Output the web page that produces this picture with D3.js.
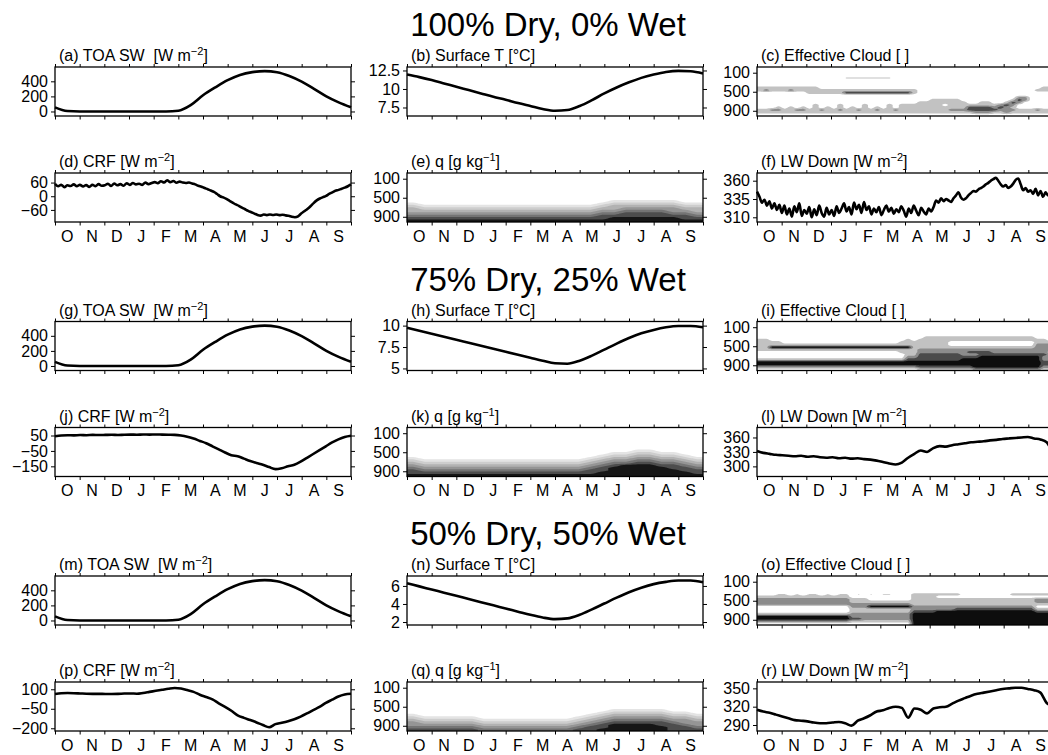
<!DOCTYPE html>
<html>
<head>
<meta charset="UTF-8">
<title>Dry / Wet seasonal panels</title>
<script src="https://cdn.jsdelivr.net/npm/d3@7"></script>
<style>
body { margin:0; background:#fff; }
text { font-family: "Liberation Sans", Arial, sans-serif; fill:#000; }
</style>
</head>
<body>
<svg id="chart" width="1048" height="755"></svg>
<script>
// ---- data ----
const months = ["O","N","D","J","F","M","A","M","J","J","A","S"];
const sections = ["100% Dry, 0% Wet", "75% Dry, 25% Wet", "50% Dry, 50% Wet"];

// TOA SW, twice a month (same in all three runs)
const toaSW = [55, 6, 0, 0, 0, 0, 0, 0, 0, 0, 10, 85, 215, 320, 415, 485, 522, 535, 520, 470, 395, 300, 200, 120, 55];

// surface temperature, twice a month
const sfcT100 = [11.95, 11.6, 11.2, 10.75, 10.3, 9.85, 9.4, 8.95, 8.55, 8.1, 7.7, 7.3, 7.05, 7.15, 7.7, 8.5, 9.4, 10.2, 10.9, 11.5, 11.95, 12.3, 12.45, 12.4, 12.1];
const sfcT75 = [9.75, 9.4, 9.05, 8.7, 8.35, 8.0, 7.65, 7.3, 6.95, 6.6, 6.25, 5.9, 5.6, 5.55, 5.9, 6.5, 7.2, 7.9, 8.55, 9.1, 9.5, 9.8, 9.95, 9.95, 9.8];
const sfcT50 = [6.3, 5.95, 5.6, 5.25, 4.9, 4.55, 4.2, 3.85, 3.5, 3.15, 2.8, 2.5, 2.32, 2.4, 2.8, 3.4, 4.05, 4.7, 5.3, 5.8, 6.2, 6.45, 6.6, 6.6, 6.4];

// cloud radiative forcing
const crf100 = [54, 44, 50, 40, 48, 45, 52, 44,  50, 43, 49, 41, 50, 44, 53, 46,
  48, 55, 45, 56, 48, 53, 46, 57,  50, 58, 52, 55, 50, 60, 53, 58,
  62, 57, 66, 60, 70, 62, 67, 59,  64, 60, 58, 60, 56, 52, 46, 42,
  36, 31, 25, 19, 10, 0, -5, -12,  -20, -28, -36, -42, -50, -57, -64, -70,
  -76, -82, -85, -80, -83, -80, -82, -80,  -83, -81, -84, -86, -90, -92, -88, -76,
  -66, -56, -44, -30, -18, -10, -4, 2,  10, 17, 24, 28, 33, 38, 44, 52];
const crf75 = [45, 50, 52, 51, 53, 52, 54, 53, 54, 55, 53, 55, 56, 55, 57, 56,
  57, 56, 55, 54, 50, 42, 30, 15, 0, -20, -40, -60, -78, -85, -100, -115,
  -128, -140, -155, -168, -162, -150, -140, -120, -95, -70, -45, -20, 5, 25, 40, 48];
const crf50 = [64, 70, 71, 70, 68, 66, 65, 65, 64, 64, 65, 67, 68, 66, 72, 80,
  88, 96, 104, 110, 106, 94, 80, 58, 40, 22, -8, -35, -65, -100, -120, -137,
  -155, -175, -192, -168, -158, -146, -130, -110, -86, -60, -36, -5, 20, 45, 60, 66];

// downward longwave at the surface
const lwd100 = [345, 338, 330, 334, 326, 332, 322, 329, 320, 327,
  316, 326, 314, 322, 311, 325, 317, 329, 312, 320,
  315, 324, 310, 321, 313, 326, 316, 311, 323, 314,
  320, 312, 325, 316, 322, 329, 318, 324, 314, 330,
  321, 327, 316, 331, 320, 325, 314, 322, 317, 324,
  313, 320, 326, 318, 323, 315, 321, 317, 325, 319,
  311, 322, 316, 326, 319, 313, 323, 318, 314, 322,
  318, 324, 333, 330, 336, 332, 335, 333, 331, 336,
  340, 344, 337, 334, 336, 340, 343, 346, 345, 348,
  350, 352, 355, 357, 360, 362, 364, 360, 355, 352,
  354, 350, 352, 356, 361, 363, 355, 347, 350, 345,
  347, 342, 349, 340, 346, 338, 344, 340, 343, 339];
const lwd75 = [332, 328, 326, 324, 323, 322, 321, 322, 320, 321, 319, 318,
  319, 317, 318, 316, 317, 315, 314, 312, 309, 306, 304, 308,
  318, 326, 333, 330, 338, 342, 341, 344, 346, 348, 350, 351,
  352, 354, 355, 357, 358, 359, 360, 361, 358, 356, 350, 326];
const lwd50 = [315, 312, 310, 307, 304, 301, 298, 297, 296, 294, 293, 293,
  294, 295, 293, 289, 297, 301, 306, 312, 314, 318, 320, 318,
  302, 317, 315, 309, 317, 319, 320, 325, 330, 334, 338, 341,
  343, 345, 347, 349, 350, 351, 351, 349, 347, 343, 326, 321];

// effective cloud: 20 pressure rows (top to bottom) x 48 time steps,
// class 0-4, "f" = faint trace
const cloud100 = [
  "00000000 00000000 00000000 00000000 00000000 00000000",
  "00000000 00000000 00000000 00000000 00000000 00000000",
  "00000000 00000000 00000000 00000000 00000000 00000000",
  "00000000 00000000 00000000 00000000 00000000 00000000",
  "00000000 000000ff ffffff00 00000000 00000000 00000000",
  "00000000 00000000 00000000 00000000 00000000 00000000",
  "00000000 00000000 00000000 00000000 00000000 00000000",
  "00000000 00000000 00000000 00000000 00000000 00000000",
  "11111111 11000000 00000000 00000000 00000000 00000011",
  "12111211 11111111 11111111 11000000 00000000 00000111",
  "00000000 11111133 33333333 31000000 00000000 00000000",
  "00000000 00000000 00000000 00000000 00000000 00000000",
  "00000000 00000000 00000000 00000000 00000000 00220000",
  "00000000 00000000 00000000 00001111 10000000 01320000",
  "00000000 00000000 00000000 00111111 11001100 13200000",
  "00000000 01000100 01000101 11111101 11111112 32000000",
  "00010101 01010101 01010101 11111111 11333323 21000000",
  "11221122 11211211 21121121 11111112 22333332 22111211",
  "11111111 11111111 11111111 11111111 11122211 21111111",
  "00000000 00000000 00000000 00000000 00000000 00000000"];
const cloud75 = [
  "00000000 00000000 00000000 00000000 00000000 00000000",
  "00000000 00000000 00000000 00000000 00000000 00000000",
  "00000000 00000000 00000000 00000000 00000000 00000000",
  "00000000 00000000 00000000 00000000 00000000 00000000",
  "00000000 00000000 00000000 00000000 00000000 00000000",
  "00000000 00000000 00000000 00000000 00000000 00000000",
  "00000000 00000000 00000000 00011111 11111111 11111000",
  "11000000 00000000 00000000 10111111 11111111 11111110",
  "11110000 00000000 00000001 11111110 00000000 00000111",
  "11111111 11111111 11111111 11111110 00000000 00000222",
  "11444444 44444444 44444444 41111111 11111111 11111222",
  "11111111 11111111 11111111 11222222 22222222 22222222",
  "00000000 00000000 00000001 11222222 22333322 22222221",
  "00000000 00000000 00000000 11333333 32223333 33333332",
  "00000000 00000000 00000000 22333333 33334444 44444422",
  "11111111 11111111 11111111 33333333 34444444 44444422",
  "44444444 44444444 44444444 44444444 44444444 44444433",
  "44444444 44444444 44444444 44444444 44444444 44444433",
  "22222222 22222222 22222222 22333333 33344444 44444422",
  "00000000 00000000 00000000 00111111 11122222 22222211"];
const cloud50 = [
  "00000000 00000000 00000000 00000000 00000000 00000000",
  "00000000 00000000 00000000 00000000 00000000 00000000",
  "00000000 00000000 00000000 00000000 00000000 00000000",
  "00000000 00000000 00000000 00000000 00000000 00000000",
  "00000000 00000000 00000000 00000000 00000000 00000000",
  "00000000 00000000 00000000 00000000 00000000 00000000",
  "00000000 00000000 00000000 00000000 00000000 00000000",
  "000ff0f0 ff0f0ff0 f0f0ff00 01111111 10000000 01111111",
  "11111111 11111110 00000000 01111000 00000000 00000000",
  "22222222 22222221 11000000 01111111 11111111 11111222",
  "22222222 22222221 11111111 11111111 11111111 11111222",
  "22222222 22222222 22222222 21111111 11111111 11111111",
  "00000000 00000002 22444444 42222222 22222222 22222000",
  "00000000 00000001 11111111 12222222 33333333 33333111",
  "00000000 00000001 11111111 13333444 44444444 44444333",
  "11111111 11111112 22222222 24444444 44444444 44444444",
  "44444444 44444442 22222222 24444444 44444444 44444444",
  "44444444 44444443 32222222 24444444 44444444 44444444",
  "22222222 22222221 11111111 14444444 44444444 44444444",
  "00000000 00000000 00000000 04444444 44444444 44444444"];

// specific humidity: 20 pressure rows x 25 half-month steps, shade class 0-7
const q100 = [
  "00000 00000 00000 00000 00000", "00000 00000 00000 00000 00000",
  "00000 00000 00000 00000 00000", "00000 00000 00000 00000 00000",
  "00000 00000 00000 00000 00000", "00000 00000 00000 00000 00000",
  "00000 00000 00000 00000 00000", "00000 00000 00000 00000 00000",
  "00000 00000 00000 00000 00000", "00000 00000 00000 00000 00000",
  "00000 00000 00000 00000 00000",
  "00000 00000 00000 00111 11100",
  "10000 00000 00000 01222 22211",
  "21111 11111 11111 12333 33322",
  "32222 22222 22222 23344 44433",
  "33333 33333 33333 34455 55443",
  "44444 44444 44444 45566 66554",
  "55555 55555 55555 56666 66665",
  "66666 66666 66666 66777 77766",
  "77777 77777 77777 77777 77777"];
const q75 = [
  "00000 00000 00000 00000 00000", "00000 00000 00000 00000 00000",
  "00000 00000 00000 00000 00000", "00000 00000 00000 00000 00000",
  "00000 00000 00000 00000 00000", "00000 00000 00000 00000 00000",
  "00000 00000 00000 00000 00000", "00000 00000 00000 00000 00000",
  "00000 00000 00000 00000 00000",
  "00000 00000 00000 00001 10000",
  "00000 00000 00000 00112 21100",
  "00000 00000 00000 01223 32210",
  "10000 00000 00000 12334 43321",
  "21111 11111 11111 23445 54432",
  "32222 22222 22222 34556 65543",
  "43333 33333 33333 45677 76654",
  "54444 44444 44444 56777 77665",
  "65555 55555 55555 66777 77766",
  "66666 66666 66666 67777 77776",
  "77777 77777 77777 77777 77777"];
const q50 = [
  "00000 00000 00000 00000 00000", "00000 00000 00000 00000 00000",
  "00000 00000 00000 00000 00000", "00000 00000 00000 00000 00000",
  "00000 00000 00000 00000 00000", "00000 00000 00000 00000 00000",
  "00000 00000 00000 00000 00000", "00000 00000 00000 00000 00000",
  "00000 00000 00000 00000 00000", "00000 00000 00000 00000 00000",
  "00000 00000 00000 00000 00000",
  "00000 00000 00000 00111 11000",
  "00000 00000 00000 01222 22110",
  "10000 00000 00000 12333 33221",
  "21111 10000 00001 23444 44332",
  "32222 21111 11112 34555 55443",
  "43333 32222 22223 45666 66544",
  "44444 43333 33334 56777 76654",
  "55555 54444 44445 66777 77665",
  "66666 65555 55556 67777 77666"];

// tick values
const swTicks = [0, 200, 400];
const tTicks = [[7.5, 10, 12.5], [5, 7.5, 10], [2, 4, 6]];
const crfTicks = [[-60, 0, 60], [-150, -50, 50], [-200, -50, 100]];
const lwTicks = [[310, 335, 360], [300, 330, 360], [290, 320, 350]];
const pTicks = [100, 500, 900];

// ---- layout ----
const W = 296, H = 49;
const colX = [55, 407, 757];
const secTop = [67, 321.5, 576];
const rowOff = [0, 106];
const cloudThr = [0.5, 1.5, 2.5, 3.5];
const cloudCol = ["#c2c2c2", "#8c8c8c", "#4b4b4b", "#0d0d0d"];
const qThr = [0.5, 1.5, 2.5, 3.5, 4.5, 5.5, 6.5];
const qCol = ["#e4e4e4", "#cdcdcd", "#b2b2b2", "#959595", "#747474", "#4d4d4d", "#161616"];
const fmt = d3.format("");

const svg = d3.select("#chart");

sections.forEach((s, i) => {
  svg.append("text").attr("x", 548).attr("y", 36 + i * 254.5)
    .attr("text-anchor", "middle").attr("font-size", 33).text(s);
});

const letters = "abcdefghijklmnopqr";
const sfcT = [sfcT100, sfcT75, sfcT50];
const crf = [crf100, crf75, crf50];
const lwd = [lwd100, lwd75, lwd50];
const cloud = [cloud100, cloud75, cloud50];
const qq = [q100, q75, q50];
const tDom = [[6.35, 12.97], [4.76, 10.48], [1.67, 7.1]];
const crfDom = [[-113, 102], [-216, 102], [-221, 156]];
const lwDom = [[303.6, 370.5], [279, 380.7], [280.2, 360.4]];

const specs = [];
for (let s = 0; s < 3; s++) {
  const L = i => "(" + letters[s * 6 + i] + ")";
  specs.push({sec:s,row:0,col:0,kind:"line",data:toaSW,domain:[-60,590],ticks:swTicks,title:[L(0)+" TOA SW  [W m","−2","]"]});
  specs.push({sec:s,row:0,col:1,kind:"line",data:sfcT[s],domain:tDom[s],ticks:tTicks[s],title:[L(1)+" Surface T [°C]"]});
  specs.push({sec:s,row:0,col:2,kind:"heat",data:cloud[s],thr:cloudThr,colors:cloudCol,title:[L(2)+" Effective Cloud [ ]"]});
  specs.push({sec:s,row:1,col:0,kind:"line",data:crf[s],domain:crfDom[s],ticks:crfTicks[s],title:[L(3)+" CRF [W m","−2","]"]});
  specs.push({sec:s,row:1,col:1,kind:"heat",data:qq[s],thr:qThr,colors:qCol,title:[L(4)+" q [g kg","−1","]"]});
  specs.push({sec:s,row:1,col:2,kind:"line",data:lwd[s],domain:lwDom[s],ticks:lwTicks[s],title:[L(5)+" LW Down [W m","−2","]"]});
}

// finer sampling of a class grid so the filled contours come out rounded
function refine(grid, k) {
  const ny = grid.length, nx = grid[0].length, out = [];
  for (let j = 0; j < ny * k; j++) {
    const fy = Math.min(Math.max((j + 0.5) / k - 0.5, 0), ny - 1);
    const y0 = Math.floor(fy), y1 = Math.min(y0 + 1, ny - 1), ty = fy - y0;
    for (let i = 0; i < nx * k; i++) {
      const fx = Math.min(Math.max((i + 0.5) / k - 0.5, 0), nx - 1);
      const x0 = Math.floor(fx), x1 = Math.min(x0 + 1, nx - 1), tx = fx - x0;
      out.push((grid[y0][x0] * (1 - tx) + grid[y0][x1] * tx) * (1 - ty) +
               (grid[y1][x0] * (1 - tx) + grid[y1][x1] * tx) * ty);
    }
  }
  return {vals: out, nx: nx * k, ny: ny * k};
}

function drawPanel(p) {
  const g = svg.append("g")
    .attr("transform", `translate(${colX[p.col]},${secTop[p.sec] + rowOff[p.row]})`);
  const x = d3.scaleLinear().domain([0, 12]).range([0, W]);
  let y;
  if (p.kind === "line") {
    y = d3.scaleLinear().domain(p.domain).range([H, 0]);
    const n = p.data.length;
    const line = d3.line()
      .x((d, i) => x(i * 12 / (n - 1)))
      .y(d => y(d))
      .curve(d3.curveMonotoneX);
    g.append("path").datum(p.data).attr("d", line)
      .attr("fill", "none").attr("stroke", "#000")
      .attr("stroke-width", 2.6).attr("stroke-linejoin", "round");
  } else {
    y = d3.scaleLinear().domain([1010, -20]).range([H, 0]);
    const grid = p.data.map(r => r.replace(/ /g, "").split("").map(c => c === "f" ? 0.6 : +c));
    const f = refine(grid, 5);
    const cs = d3.contours().size([f.nx, f.ny]).thresholds(p.thr)(f.vals);
    const proj = d3.geoTransform({
      point(px, py) { this.stream.point(px / f.nx * W, py / f.ny * H); }
    });
    g.selectAll("path.band").data(cs).join("path")
      .attr("class", "band")
      .attr("d", d3.geoPath(proj))
      .attr("fill", (d, i) => p.colors[i]);
  }
  const ticks = p.kind === "line" ? p.ticks : pTicks;

  g.append("rect").attr("width", W).attr("height", H)
    .attr("fill", "none").attr("stroke", "#000").attr("stroke-width", 1.3);

  const mt = d3.range(13);
  const clean = a => a.select(".domain").remove();
  g.append("g").attr("transform", `translate(0,${H})`)
    .call(d3.axisBottom(x).tickValues(mt).tickSize(3.5).tickFormat("")).call(clean);
  g.append("g")
    .call(d3.axisTop(x).tickValues(mt).tickSize(3).tickFormat("")).call(clean);
  g.append("g")
    .call(d3.axisLeft(y).tickValues(ticks).tickSize(4).tickPadding(3).tickFormat(fmt))
    .call(clean)
    .attr("font-size", 16).attr("font-family", "Liberation Sans, Arial, sans-serif");
  g.append("g").attr("transform", `translate(${W},0)`)
    .call(d3.axisRight(y).tickValues(ticks).tickSize(4).tickFormat("")).call(clean);

  if (p.row === 1) {
    g.selectAll("text.mon").data(months).join("text")
      .attr("class", "mon")
      .attr("x", (d, i) => x(i + 0.5)).attr("y", H + 19.5)
      .attr("text-anchor", "middle").attr("font-size", 16)
      .text(d => d);
  }

  const t = g.append("text").attr("x", 4).attr("y", -6)
    .attr("font-size", 16).style("white-space", "pre");
  t.append("tspan").text(p.title[0]);
  if (p.title.length > 1) {
    t.append("tspan").attr("dy", -6).attr("font-size", 11).text(p.title[1]);
    t.append("tspan").attr("dy", 6).text(p.title[2]);
  }
}

specs.forEach(drawPanel);
</script>
</body>
</html>
